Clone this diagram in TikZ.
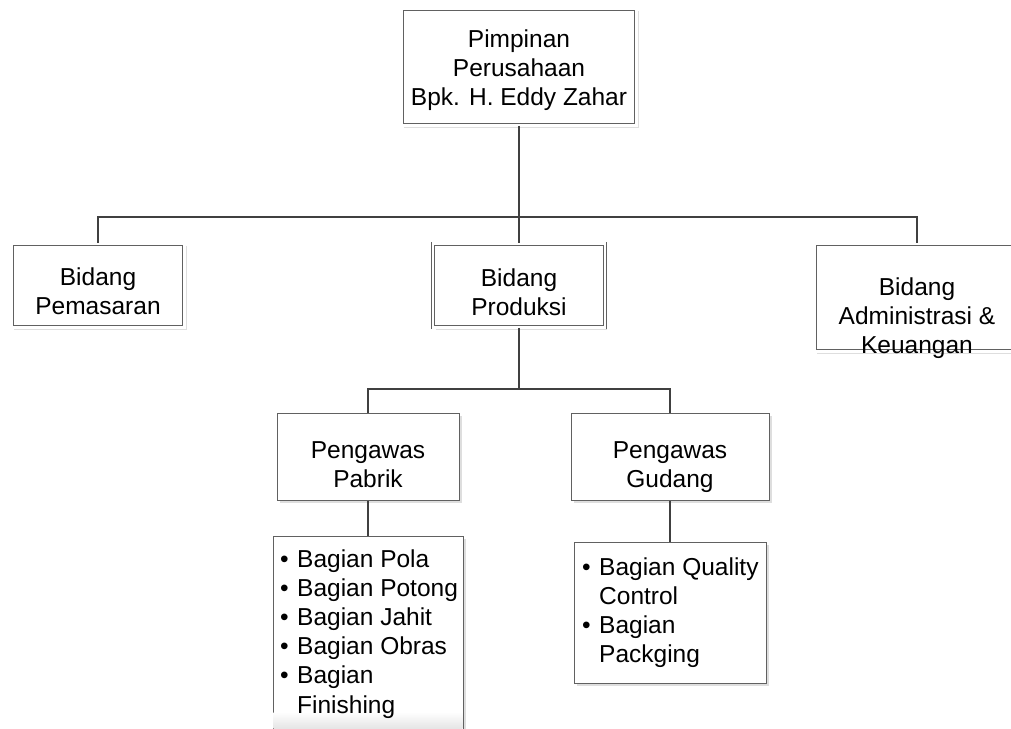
\documentclass[tikz,border=0pt]{standalone}
\usepackage{fontspec}
\setmainfont{Liberation Sans}
\usetikzlibrary{shadows}
\tikzset{
  shad/.style={drop shadow={shadow xshift=2.5pt, shadow yshift=-2.5pt, fill=black, opacity=0.13}},
  dbox/.style={shad, draw=black!62, line width=0.9pt, double=white, double distance=2.4pt, fill=white, inner sep=0pt},
  sbox/.style={shad, draw=black!62, line width=1pt, fill=white, inner sep=0pt},
  conn/.style={draw=black!75, line width=1.3pt},
  lbl/.style={inner sep=0pt, anchor=base, font=\fontsize{24.5}{29.2}\selectfont},
  lst/.style={inner sep=0pt, anchor=base west, font=\fontsize{24.5}{29.2}\selectfont},
}
\newcommand{\ctext}[1]{\begin{tabular}[t]{@{}c@{}}#1\end{tabular}}
\newcommand{\bul}{\makebox[17pt][l]{•}}
\begin{document}
\begin{tikzpicture}[x=1pt,y=-1pt]
\useasboundingbox (0,0) rectangle (1011,728);
\clip (0,0) rectangle (1011,728);

% boxes
\node[dbox, minimum width=234.7pt, minimum height=116.7pt] (top) at (519,67) {};
\node[dbox, minimum width=172.7pt, minimum height=83.7pt] (pem) at (98,285.5) {};
\node[dbox, minimum width=171.7pt, minimum height=83.7pt] (prod) at (519,285.5) {};
\node[dbox, minimum width=204.7pt, minimum height=107.7pt] (adm) at (917,297.5) {};
\node[sbox, minimum width=182pt, minimum height=87pt] (pab) at (368,456.5) {};
\node[sbox, minimum width=198pt, minimum height=87pt] (gud) at (670,456.5) {};
\node[sbox, minimum width=190pt, minimum height=240pt] (pabl) at (368,656) {};
\node[sbox, minimum width=192pt, minimum height=141pt] (gudl) at (670,612.5) {};
\shade[top color=white, bottom color=black!10] (273.6,712) rectangle (462.4,728);

% texts
\node[lbl] (topT) at (519,47) {\ctext{Pimpinan\\Perusahaan\\Bpk. H. Eddy Zahar}};
\node[lbl] (pemT) at (98,285) {\ctext{Bidang\\Pemasaran}};
\node[lbl] (prodT) at (519,286) {\ctext{Bidang\\Produksi}};
\node[lbl] (admT) at (917,295) {\ctext{Bidang\\Administrasi \&\\Keuangan}};
\node[lbl] (pabT) at (368,458) {\ctext{Pengawas\\Pabrik}};
\node[lbl] (gudT) at (670,458) {\ctext{Pengawas\\Gudang}};
\node[lst] (pablT) at (280,567) {\begin{tabular}[t]{@{}l@{}l@{}}
\bul & Bagian Pola\\
\bul & Bagian Potong\\
\bul & Bagian Jahit\\
\bul & Bagian Obras\\
\bul & Bagian\\
     & Finishing
\end{tabular}};
\node[lst] (gudlT) at (582,575) {\begin{tabular}[t]{@{}l@{}l@{}}
\bul & Bagian Quality\\
     & Control\\
\bul & Bagian\\
     & Packging
\end{tabular}};

% connectors
\coordinate (j1) at (519,217);
\coordinate (j2) at (519,389);
\draw[conn] (top.south) -- (j1);
\draw[conn] (pem.north) |- (j1);
\draw[conn] (j1) -| (adm.north);
\draw[conn] (j1) -- (prod.north);
\draw[conn] (prod.south) -- (j2);
\draw[conn] (pab.north) |- (j2);
\draw[conn] (j2) -| (gud.north);
\draw[conn] (pab.south) -- (pabl.north);
\draw[conn] (gud.south) -- (gudl.north);
\end{tikzpicture}
\end{document}
